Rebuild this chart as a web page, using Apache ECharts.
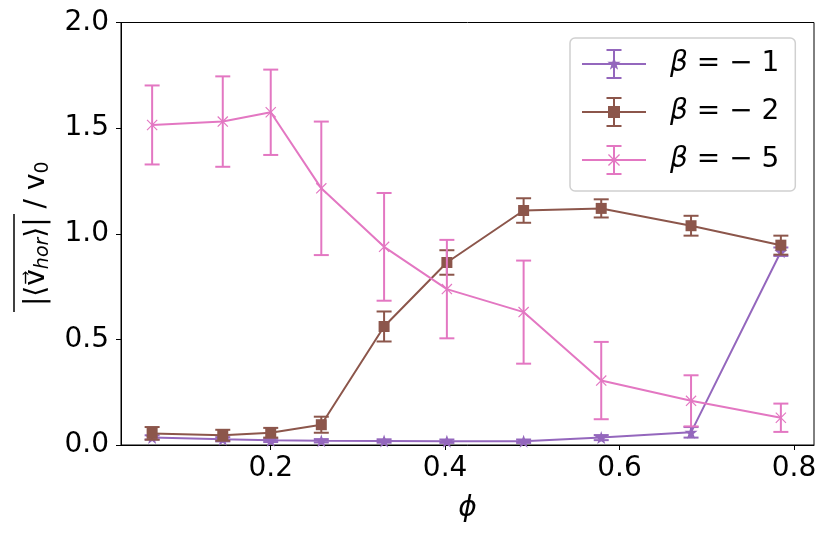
<!DOCTYPE html>
<html>
<head>
<meta charset="utf-8">
<script src="https://cdn.jsdelivr.net/npm/echarts@6/dist/echarts.min.js"></script>
<style>
  html, body { margin: 0; padding: 0; background: #fff; }
  #chart { width: 831px; height: 536px; }
</style>
</head>
<body>
<div id="chart"></div>
<script>
// phi values (x axis)
const phi = [0.064, 0.145, 0.2, 0.258, 0.33, 0.402, 0.49, 0.579, 0.682, 0.785]

// beta = -1
const vB1 = [0.036, 0.027, 0.022, 0.020, 0.019, 0.018, 0.018, 0.035, 0.060, 0.915]
const eB1 = [0.010, 0.010, 0.008, 0.008, 0.008, 0.008, 0.008, 0.012, 0.025, 0.020]
// beta = -2
const vB2 = [0.055, 0.046, 0.058, 0.096, 0.561, 0.864, 1.110, 1.120, 1.038, 0.946]
const eB2 = [0.030, 0.026, 0.023, 0.038, 0.071, 0.058, 0.058, 0.043, 0.047, 0.045]
// beta = -5
const vB5 = [1.515, 1.531, 1.575, 1.215, 0.938, 0.738, 0.629, 0.305, 0.209, 0.129]
const eB5 = [0.187, 0.214, 0.202, 0.316, 0.255, 0.233, 0.244, 0.183, 0.121, 0.067]

const names = ['β = − 1', 'β = − 2', 'β = − 5']
const colors = ['#9467bd', '#8c564b', '#e377c2']
const xTicks = [0.2, 0.4, 0.6, 0.8]

const FONT = 'DejaVu Sans'

// marker shapes (unit coords, centered on 0)
const starPts = []
for (let k = 0; k < 10; k++) {
	const a = (-90 + 36 * k) * Math.PI / 180
	const r = k % 2 == 0 ? 1 : 0.4
	starPts.push([r * Math.cos(a), r * Math.sin(a)])
}
const xPts1 = [[-1, -0.85], [-0.85, -1], [1, 0.85], [0.85, 1]]
const xPts2 = [[0.85, -1], [1, -0.85], [-0.85, 1], [-1, 0.85]]
const sqPts = [[-1, -1], [1, -1], [1, 1], [-1, 1]]

function poly(pts, s, cx, cy) {
	let d = ''
	pts.forEach(function (p, i) {
		d += (i == 0 ? 'M' : 'L') + (cx + p[0] * s).toFixed(2) + ',' + (cy + p[1] * s).toFixed(2)
	})
	return d + 'Z'
}

const starSym = 'path://' + poly(starPts, 10, 10, 10)
const xSym = 'path://' + poly(xPts1, 10, 10, 10) + poly(xPts2, 10, 10, 10)

// legend icons: line + error bar + marker
const base = 'M0,14H64V16H0Z M31,0H33V30H31Z M24.5,0H39.5V2H24.5Z M24.5,28H39.5V30H24.5Z '
const icons = [
	'path://' + base + poly(starPts, 7, 32, 15),
	'path://' + base + poly(sqPts, 6, 32, 15),
	'path://' + base + poly(xPts1, 6, 32, 15) + poly(xPts2, 6, 32, 15)
]

function errData(v, e) {
	return phi.map(function (p, i) { return [p, v[i] - e[i], v[i] + e[i]] })
}

function errRender(color) {
	return function (params, api) {
		const top = api.coord([api.value(0), api.value(2)])
		const bot = api.coord([api.value(0), api.value(1)])
		const hw = 7.5
		const st = { stroke: color, lineWidth: 2 }
		return {
			type: 'group',
			children: [
				{ type: 'line', shape: { x1: top[0], y1: top[1], x2: bot[0], y2: bot[1] }, style: st },
				{ type: 'line', shape: { x1: top[0] - hw, y1: top[1], x2: top[0] + hw, y2: top[1] }, style: st },
				{ type: 'line', shape: { x1: bot[0] - hw, y1: bot[1], x2: bot[0] + hw, y2: bot[1] }, style: st }
			]
		}
	}
}

const vals = [vB1, vB2, vB5]
const errs = [eB1, eB2, eB5]
const syms = [starSym, 'rect', xSym]
const symSizes = [13, 11, 11]

let series = []
for (let i = 0; i < 3; i++) {
	series.push({
		type: 'custom',
		name: 'err' + i,
		renderItem: errRender(colors[i]),
		encode: { x: 0, y: [1, 2] },
		data: errData(vals[i], errs[i]),
		z: 2 + i * 2,
		silent: true
	})
	series.push({
		type: 'line',
		name: names[i],
		data: phi.map(function (p, j) { return [p, vals[i][j]] }),
		symbol: syms[i],
		symbolSize: symSizes[i],
		showAllSymbol: true,
		color: colors[i],
		lineStyle: { width: 2, color: colors[i] },
		itemStyle: { color: colors[i], borderWidth: 0 },
		z: 3 + i * 2,
		animation: false
	})
}

const chart = echarts.init(document.getElementById('chart'))

const option = {
	animation: false,
	grid: {
		left: 121, right: 17, top: 22.5, bottom: 91,
		show: true, borderColor: '#000', borderWidth: 1
	},
	legend: {
		orient: 'vertical',
		left: 570,
		top: 38,
		data: names.map(function (n, i) { return { name: n, icon: icons[i] } }),
		itemWidth: 64,
		itemHeight: 30,
		itemGap: 18,
		padding: [11, 16, 16, 12],
		backgroundColor: '#fff',
		borderColor: '#d0d0d0',
		borderWidth: 1.5,
		borderRadius: 5,
		itemStyle: { borderWidth: 0 },
		formatter: function (n) { return '{it|β}' + n.slice(1) },
		textStyle: {
			fontSize: 28, fontFamily: FONT, color: '#000', padding: [0, 0, 0, 19],
			rich: { it: { fontSize: 28, fontFamily: FONT, fontStyle: 'italic', color: '#000' } }
		}
	},
	xAxis: {
		type: 'value',
		min: 0.0283,
		max: 0.823,
		name: 'ϕ',
		nameLocation: 'middle',
		nameGap: 50,
		nameTextStyle: { fontSize: 28, fontFamily: FONT, fontStyle: 'italic', color: '#000' },
		splitLine: { show: false },
		axisLine: { show: true, onZero: false, lineStyle: { color: '#000', width: 1 } },
		axisTick: { show: true, length: 5, lineStyle: { color: '#000', width: 1 }, customValues: xTicks },
		axisLabel: {
			fontSize: 28, fontFamily: FONT, color: '#000', margin: 10,
			customValues: xTicks,
			formatter: function (v) { return v.toFixed(1) }
		}
	},
	yAxis: {
		type: 'value',
		min: 0,
		max: 2,
		interval: 0.5,
		name: '|⟨v\u20D7{s|hor}⟩| / v{z|0}',
		nameLocation: 'middle',
		nameGap: 68,
		nameTextStyle: {
			fontSize: 28, fontFamily: FONT, color: '#000',
			rich: {
				s: { fontSize: 19, fontFamily: FONT, fontStyle: 'italic', color: '#000', padding: [14, 0, 0, 0] },
				z: { fontSize: 19, fontFamily: FONT, color: '#000', padding: [14, 0, 0, 0] }
			}
		},
		splitLine: { show: false },
		axisLine: { show: true, lineStyle: { color: '#000', width: 1 } },
		axisTick: { show: true, length: 5, lineStyle: { color: '#000', width: 1 } },
		axisLabel: {
			fontSize: 28, fontFamily: FONT, color: '#000', margin: 12,
			formatter: function (v) { return v.toFixed(1) }
		}
	},
	graphic: [{
		// overline of the y axis label
		type: 'line',
		shape: { x1: 14, y1: 214, x2: 14, y2: 312 },
		style: { stroke: '#000', lineWidth: 1.5 }
	}],
	series: series
}

chart.setOption(option)
</script>
</body>
</html>
